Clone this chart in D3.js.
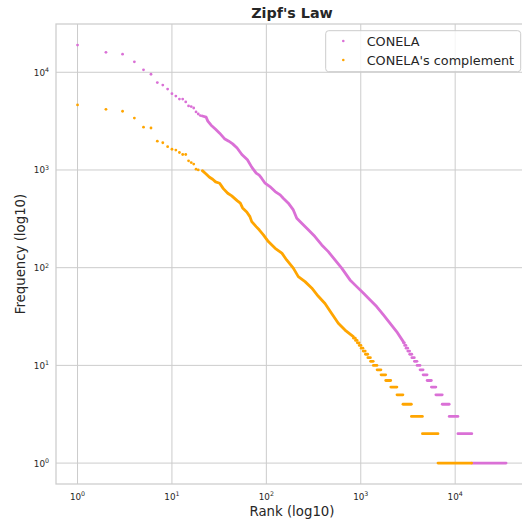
<!DOCTYPE html>
<html>
<head>
<meta charset="utf-8">
<script src="https://cdn.jsdelivr.net/npm/d3@7"></script>
<style>
  body { margin: 0; background: #fff; }
  svg { display: block; font-family: "DejaVu Sans", sans-serif; }
</style>
</head>
<body>
<svg id="chart" width="522" height="519"></svg>
<script>
// Zipf's law: rank vs frequency

const seriesNames = ["CONELA", "CONELA's complement"];
const seriesColors = ["orchid", "orange"];

// first ranks, one marker each
const conelaHeadRank = [1, 2, 3, 4, 5, 6, 7, 8, 9, 10, 11, 12, 13, 14, 15, 16, 17, 18, 19, 20];
const conelaHeadFreq = [19000, 16000, 15300, 12800, 10600, 9540, 7840, 7390, 6730, 6040,
                        5710, 5320, 5320, 4970, 4520, 4450, 4310, 3930, 3740, 3600];

const complHeadRank = [1, 2, 3, 4, 5, 6, 7, 8, 9, 10, 11, 12, 13, 14, 15, 16, 17, 18, 19];
const complHeadFreq = [4630, 4180, 3990, 3400, 2740, 2690, 1970, 1900, 1730, 1630,
                       1600, 1510, 1440, 1440, 1240, 1190, 1150, 1020, 1000];

// dense middle part (markers overlap into a line)
const conelaCurveRank = [21, 23, 24, 26, 29, 32, 36, 40, 44, 49, 55, 63, 70, 78, 84, 89, 97, 109,
                         124, 140, 151, 171, 193, 210, 237, 278, 327, 386, 453, 533, 628, 769,
                         906, 1063, 1250, 1473, 1730, 2037, 2398, 2820];
const conelaCurveFreq = [3570, 3470, 3160, 2870, 2610, 2380, 2090, 1970, 1850, 1680, 1440, 1270,
                         1070, 927, 884, 824, 732, 676, 601, 556, 514, 457, 390, 321, 285, 244,
                         208, 171, 146, 120, 99, 75, 64, 55, 47, 40, 33, 27, 22.2, 17.5];

const complCurveRank = [21, 23, 25, 27, 29, 32, 35, 39, 43, 49, 53, 56, 62, 67, 70, 78, 84, 93,
                        105, 124, 146, 164, 193, 218, 257, 302, 355, 418, 492, 578, 681, 834];
const complCurveFreq = [985, 911, 843, 804, 755, 732, 644, 578, 543, 486, 457, 409, 372, 333,
                        296, 263, 244, 217, 185, 158, 141, 120, 99, 81, 72, 62, 51, 43, 34,
                        27, 23, 19.7];

// tail: runs of ranks sharing the same integer frequency
const conelaRunFreq  = [17, 16, 15, 14, 13, 12, 11, 10, 9, 8, 7, 6, 5, 4, 3, 2, 1];
const conelaRunStart = [2830, 2920, 3020, 3150, 3300, 3480, 3700, 3950, 4250, 4580, 5050, 5600, 6250, 7300, 8650, 10700, 15000];
const conelaRunEnd   = [2900, 3010, 3140, 3290, 3470, 3690, 3940, 4240, 4570, 5040, 5590, 6240, 7290, 8640, 10690, 14990, 34600];

const complRunFreq  = [19, 18, 17, 16, 15, 14, 13, 12, 11, 10, 9, 8, 7, 6, 5, 4, 3, 2, 1];
const complRunStart = [840, 880, 920, 965, 1010, 1060, 1120, 1190, 1270, 1360, 1490, 1640, 1840, 2080, 2420, 2800, 3440, 4500, 6580];
const complRunEnd   = [875, 915, 960, 1005, 1055, 1115, 1185, 1265, 1355, 1485, 1635, 1835, 2075, 2415, 2795, 3435, 4495, 6575, 14950];

const xTicks = [1, 10, 100, 1000, 10000];
const yTicks = [1, 10, 100, 1000, 10000];

const svg = d3.select("#chart");
const plotLeft = 56, plotRight = 529, plotTop = 24, plotBottom = 484;
const gridColor = "#cccccc";
const textColor = "#262626";

const x = d3.scaleLog().domain([Math.pow(10, -0.228), Math.pow(10, 4.782)]).range([plotLeft, plotRight]);
const y = d3.scaleLog().domain([Math.pow(10, -0.214), Math.pow(10, 4.494)]).range([plotBottom, plotTop]);

// grid
const grid = svg.append("g");
grid.selectAll(".vgrid").data(xTicks).join("line")
    .attr("x1", d => x(d)).attr("x2", d => x(d))
    .attr("y1", plotTop).attr("y2", plotBottom)
    .attr("stroke", gridColor).attr("stroke-width", 1);
grid.selectAll(".hgrid").data(yTicks).join("line")
    .attr("x1", plotLeft).attr("x2", plotRight)
    .attr("y1", d => y(d)).attr("y2", d => y(d))
    .attr("stroke", gridColor).attr("stroke-width", 1);

// frame
svg.append("rect")
    .attr("x", plotLeft).attr("y", plotTop)
    .attr("width", plotRight - plotLeft).attr("height", plotBottom - plotTop)
    .attr("fill", "none").attr("stroke", gridColor).attr("stroke-width", 1.25);

// tick labels like 10^k
function powerLabel(sel, d) {
    const k = Math.round(Math.log10(d));
    sel.append("tspan").text("10");
    sel.append("tspan").attr("font-size", "6.3px").attr("dy", "-3.6").text(k);
}
svg.append("g").selectAll("text").data(xTicks).join("text")
    .attr("x", d => x(d)).attr("y", 500)
    .attr("text-anchor", "middle").attr("font-size", "8.8px").attr("fill", textColor)
    .each(function(d) { powerLabel(d3.select(this), d); });
svg.append("g").selectAll("text").data(yTicks).join("text")
    .attr("x", 49).attr("y", d => y(d) + 3.5)
    .attr("text-anchor", "end").attr("font-size", "8.8px").attr("fill", textColor)
    .each(function(d) { powerLabel(d3.select(this), d); });

// series
const series = [
    { headR: conelaHeadRank, headF: conelaHeadFreq, curveR: conelaCurveRank, curveF: conelaCurveFreq,
      runF: conelaRunFreq, runS: conelaRunStart, runE: conelaRunEnd, color: seriesColors[0] },
    { headR: complHeadRank, headF: complHeadFreq, curveR: complCurveRank, curveF: complCurveFreq,
      runF: complRunFreq, runS: complRunStart, runE: complRunEnd, color: seriesColors[1] }
];

const plot = svg.append("g");
const line = d3.line().x(d => x(d[0])).y(d => y(d[1]));

series.forEach(s => {
    const g = plot.append("g");
    g.selectAll("circle").data(s.headR.map((r, i) => [r, s.headF[i]])).join("circle")
        .attr("cx", d => x(d[0])).attr("cy", d => y(d[1])).attr("r", 1.4)
        .attr("fill", s.color);
    g.append("path")
        .datum(s.curveR.map((r, i) => [r, s.curveF[i]]))
        .attr("d", line)
        .attr("fill", "none").attr("stroke", s.color)
        .attr("stroke-width", 2.8).attr("stroke-linecap", "round").attr("stroke-linejoin", "round");
    g.selectAll("line").data(s.runF.map((f, i) => [s.runS[i], s.runE[i], f])).join("line")
        .attr("x1", d => x(d[0])).attr("x2", d => x(d[1]))
        .attr("y1", d => y(d[2])).attr("y2", d => y(d[2]))
        .attr("stroke", s.color).attr("stroke-width", 2.8).attr("stroke-linecap", "round");
});

// title and axis labels
svg.append("text").attr("x", 292).attr("y", 17.7)
    .attr("text-anchor", "middle").attr("font-size", "14.3px").attr("font-weight", "bold")
    .attr("fill", textColor).text("Zipf's Law");
svg.append("text").attr("x", 292).attr("y", 516)
    .attr("text-anchor", "middle").attr("font-size", "13.3px")
    .attr("fill", textColor).text("Rank (log10)");
svg.append("text")
    .attr("transform", `translate(25,${(plotTop + plotBottom) / 2}) rotate(-90)`)
    .attr("text-anchor", "middle").attr("font-size", "13.3px")
    .attr("fill", textColor).text("Frequency (log10)");

// legend
const legend = svg.append("g");
legend.append("rect")
    .attr("x", 325.7).attr("y", 30.7).attr("width", 195).attr("height", 41)
    .attr("rx", 3).attr("fill", "white").attr("fill-opacity", 0.8)
    .attr("stroke", gridColor).attr("stroke-width", 1);
seriesNames.forEach((name, i) => {
    legend.append("circle").attr("cx", 343.3).attr("cy", 41 + i * 19).attr("r", 1.3)
        .attr("fill", seriesColors[i]);
    legend.append("text").attr("x", 366.7).attr("y", 45.8 + i * 19)
        .attr("font-size", "12.8px").attr("fill", textColor).text(name);
});
</script>
</body>
</html>
